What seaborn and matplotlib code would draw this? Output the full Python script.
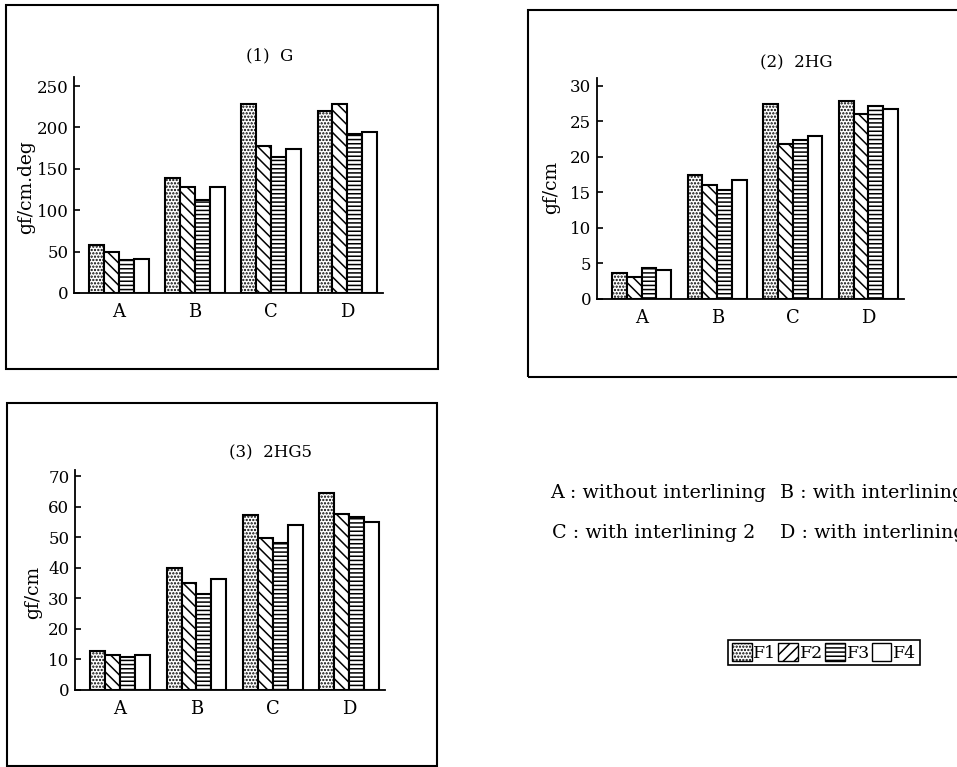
import matplotlib.pyplot as plt
import pandas as pd
import seaborn as sns
from matplotlib.patches import Patch, Rectangle

groups = ["A", "B", "C", "D"]
fabrics = ["F1", "F2", "F3", "F4"]

# (1) G  [gf/cm.deg], one list per fabric, values for A-D
g_f1 = [57.5, 139.5, 228, 220]
g_f2 = [50, 128.5, 178, 228]
g_f3 = [40, 112.5, 164, 192]
g_f4 = [41, 128.5, 173.5, 195]

# (2) 2HG  [gf/cm]
hg_f1 = [3.6, 17.5, 27.4, 27.8]
hg_f2 = [3.1, 16.1, 21.8, 26.0]
hg_f3 = [4.3, 15.4, 22.4, 27.1]
hg_f4 = [4.1, 16.8, 23.0, 26.7]

# (3) 2HG5  [gf/cm]
hg5_f1 = [12.7, 40.0, 57.2, 64.5]
hg5_f2 = [11.3, 35.0, 49.8, 57.6]
hg5_f3 = [10.8, 31.4, 48.2, 56.5]
hg5_f4 = [11.3, 36.4, 54.0, 55.1]

hatches = [".....", "\\\\\\", "----", ""]
legend_hatches = [".....", "///", "----", ""]


def to_long(cols):
    rows = []
    for fab, vals in zip(fabrics, cols):
        for grp, v in zip(groups, vals):
            rows.append({"group": grp, "fabric": fab, "value": v})
    return pd.DataFrame(rows)


sns.set_theme(style="white")
plt.rcParams["font.family"] = ["DejaVu Serif"]
plt.rcParams["hatch.linewidth"] = 1.1
for k in ["text.color", "axes.labelcolor", "xtick.color", "ytick.color"]:
    plt.rcParams[k] = "black"

fig = plt.figure(figsize=(9.57, 7.67), dpi=100)


def panel(rect, cols, title, title_xy, ylabel, ylabel_xy, ymax, yticks):
    ax = fig.add_axes(rect)
    df = to_long(cols)
    sns.barplot(data=df, x="group", y="value", hue="fabric", order=groups,
                hue_order=fabrics, palette=["white"] * 4, edgecolor="black",
                linewidth=1.5, width=0.78, errorbar=None, legend=False, ax=ax)
    for cont, h in zip(ax.containers, hatches):
        for bar in cont:
            bar.set_hatch(h)
    ax.set_xlim(-0.59, 3.47)
    ax.set_ylim(0, ymax)
    ax.set_yticks(yticks)
    ax.set_xlabel("")
    ax.set_ylabel(ylabel, fontsize=13.5)
    ax.yaxis.set_label_coords(*ylabel_xy)
    ax.text(title_xy[0], title_xy[1], title, transform=ax.transAxes,
            ha="center", va="center", fontsize=12)
    sns.despine(ax=ax)
    for s in ["left", "bottom"]:
        ax.spines[s].set_color("black")
        ax.spines[s].set_linewidth(1.3)
    ax.tick_params(axis="y", direction="in", length=4, width=1.2, pad=4,
                   labelsize=12, left=True)
    ax.tick_params(axis="x", length=0, pad=7, labelsize=13)
    return ax


panel([0.0773, 0.618, 0.3229, 0.2816], [g_f1, g_f2, g_f3, g_f4],
      "(1)  G", (0.634, 1.10), "gf/cm.deg", (-0.126, 0.49), 261,
      [0, 50, 100, 150, 200, 250])
panel([0.6238, 0.6102, 0.3208, 0.2881], [hg_f1, hg_f2, hg_f3, hg_f4],
      "(2)  2HG", (0.648, 1.068), "gf/cm", (-0.12, 0.507), 31.1,
      [0, 5, 10, 15, 20, 25, 30])
panel([0.0784, 0.1004, 0.3239, 0.2868], [hg5_f1, hg5_f2, hg5_f3, hg5_f4],
      "(3)  2HG5", (0.629, 1.077), "gf/cm", (-0.106, 0.445), 72,
      [0, 10, 20, 30, 40, 50, 60, 70])

# frames around each panel
for x0, y0, w, h in [(0.0063, 0.5189, 0.4514, 0.4746),
                     (0.5517, 0.5085, 0.4619, 0.4785),
                     (0.0073, 0.0013, 0.4493, 0.4733)]:
    fig.patches.append(Rectangle((x0, y0), w, h, transform=fig.transFigure,
                                 fill=False, edgecolor="black", linewidth=1.5))

# key to the groups (runs off the right edge, as in the original)
fig.text(550 / 957, 1 - 493 / 767, "A : without interlining", ha="left",
         va="center", fontsize=13.8)
fig.text(780 / 957, 1 - 493 / 767, "B : with interlining 1", ha="left",
         va="center", fontsize=13.8)
fig.text(552 / 957, 1 - 533 / 767, "C : with interlining 2", ha="left",
         va="center", fontsize=13.8)
fig.text(780 / 957, 1 - 533 / 767, "D : with interlining 3", ha="left",
         va="center", fontsize=13.8)

handles = [Patch(facecolor="white", edgecolor="black", hatch=h, label=f)
           for f, h in zip(fabrics, legend_hatches)]
leg = fig.legend(handles=handles, loc="center", bbox_to_anchor=(0.861, 0.149),
                 ncol=4, frameon=True, fancybox=False, framealpha=1,
                 edgecolor="black", handlelength=1.15, handleheight=1.15,
                 handletextpad=0.1, columnspacing=0.1, borderpad=0.2,
                 borderaxespad=0, fontsize=12.5)
leg.get_frame().set_linewidth(1.2)

fig.savefig("out.png", dpi=100)
